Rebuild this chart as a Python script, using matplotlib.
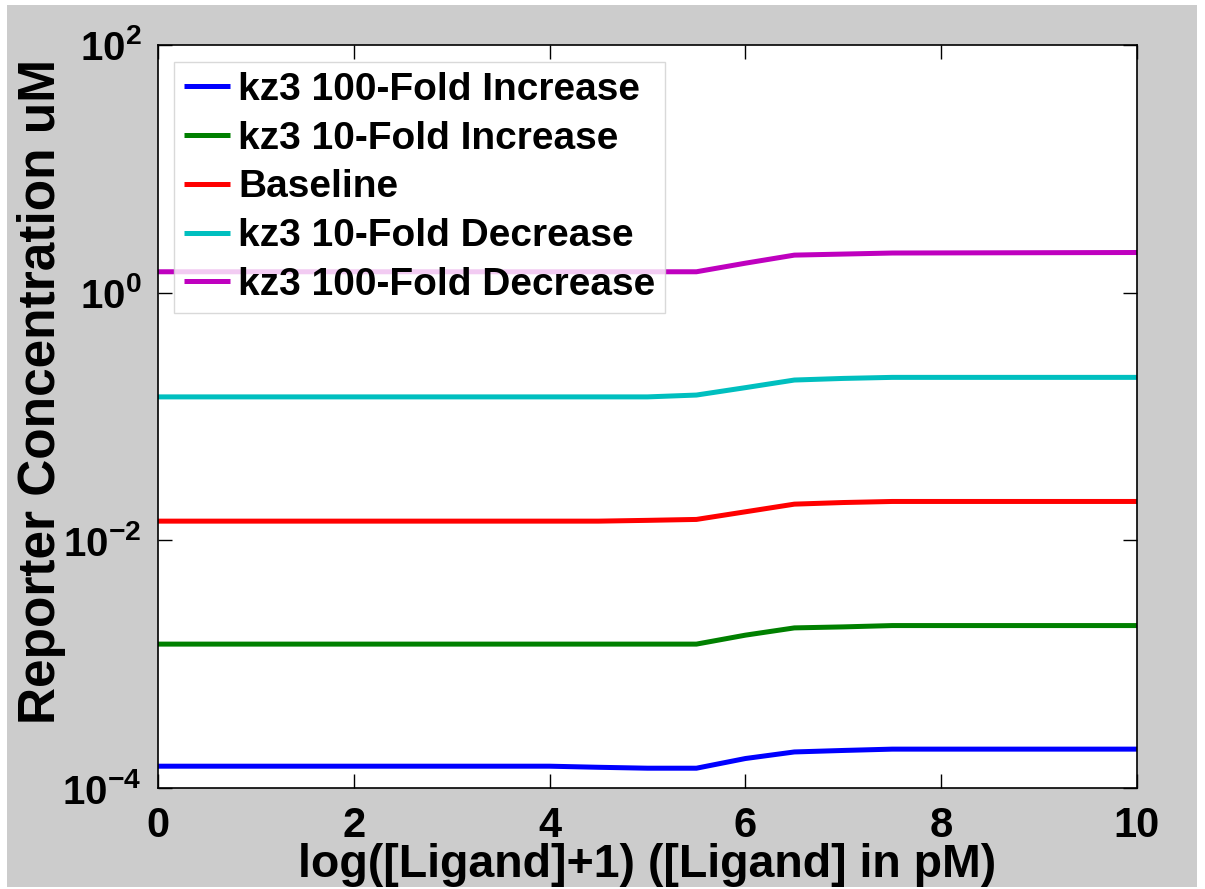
import matplotlib
matplotlib.use("Agg")
import matplotlib.pyplot as plt
from matplotlib.patches import Rectangle
from matplotlib.ticker import FixedLocator, NullLocator

plt.rcParams['font.family'] = ['Liberation Sans', 'DejaVu Sans']
plt.rcParams['font.weight'] = 'bold'
plt.rcParams['mathtext.fontset'] = 'custom'
plt.rcParams['mathtext.rm'] = 'Liberation Sans:bold'
plt.rcParams['mathtext.bf'] = 'Liberation Sans:bold'
plt.rcParams['mathtext.it'] = 'Liberation Sans:bold'

# log([Ligand]+1) sample points
x = [0, 4.0, 4.5, 5.0, 5.5, 6.0, 6.5, 7.0, 7.5, 10]

kz3_100_inc = [1.50e-4, 1.50e-4, 1.47e-4, 1.445e-4, 1.445e-4, 1.73e-4, 1.955e-4, 2.01e-4, 2.06e-4, 2.06e-4]
kz3_10_inc = [1.452e-3, 1.452e-3, 1.452e-3, 1.452e-3, 1.452e-3, 1.715e-3, 1.963e-3, 2.00e-3, 2.05e-3, 2.05e-3]
baseline = [1.429e-2, 1.429e-2, 1.429e-2, 1.45e-2, 1.475e-2, 1.70e-2, 1.96e-2, 2.02e-2, 2.06e-2, 2.06e-2]
kz3_10_dec = [0.144, 0.144, 0.144, 0.144, 0.149, 0.171, 0.197, 0.203, 0.207, 0.207]
kz3_100_dec = [1.475, 1.475, 1.475, 1.475, 1.475, 1.73, 2.01, 2.05, 2.09, 2.11]

series = [kz3_100_inc, kz3_10_inc, baseline, kz3_10_dec, kz3_100_dec]
labels = ['kz3 100-Fold Increase', 'kz3 10-Fold Increase', 'Baseline',
          'kz3 10-Fold Decrease', 'kz3 100-Fold Decrease']
colors = [(0, 0, 1), (0, 0.5, 0), (1, 0, 0), (0, 0.75, 0.75), (0.75, 0, 0.75)]

xticks = [0, 2, 4, 6, 8, 10]
yticks = [1e-4, 1e-2, 1e0, 1e2]
ytick_exps = ['-4', '-2', '0', '2']

W, H = 1205, 889
fig = plt.figure(figsize=(W / 100, H / 100), dpi=100, facecolor='white')
fig.patches.append(Rectangle((7 / W, 2 / H), (1197 - 7) / W, (887 - 5) / H,
                             transform=fig.transFigure, facecolor='#cccccc',
                             edgecolor='none', zorder=-10))

ax = fig.add_axes([158 / W, 1 - 788 / H, (1137 - 158) / W, (788 - 45) / H])
ax.set_facecolor('white')

for ys, lab, c in zip(series, labels, colors):
    ax.plot(x, ys, color=c, lw=3.6, label=lab, solid_capstyle='butt')

ax.set_yscale('log')
ax.set_xlim(0, 10)
ax.set_ylim(1e-4, 1e2)
ax.xaxis.set_major_locator(FixedLocator(xticks))
ax.yaxis.set_major_locator(FixedLocator(yticks))
ax.yaxis.set_minor_locator(NullLocator())
ax.xaxis.set_minor_locator(NullLocator())
ax.set_yticklabels([r'$\mathbf{10^{%s}}$' % e for e in ytick_exps])
ax.set_xticklabels([str(t) for t in xticks])

ax.tick_params(axis='both', which='major', direction='in', length=10, width=1,
               top=True, right=True, colors='black')
ax.tick_params(axis='x', pad=13, labelsize=30)
ax.tick_params(axis='y', pad=12, labelsize=29)
for lbl in ax.get_xticklabels() + ax.get_yticklabels():
    lbl.set_fontweight('bold')
for s in ax.spines.values():
    s.set_linewidth(1.2)
    s.set_color('black')

ax.set_xlabel('log([Ligand]+1) ([Ligand] in pM)', fontsize=33.5, fontweight='bold', labelpad=-2)
ax.set_ylabel('Reporter Concentration uM', fontsize=37, fontweight='bold')
ax.yaxis.set_label_coords(-0.094, (788 - 392) / (788 - 45))

leg = ax.legend(loc='upper left', bbox_to_anchor=((174 - 158) / (1137 - 158), 1 - (62 - 45) / (788 - 45)),
                borderaxespad=0, frameon=True, fancybox=False,
                handlelength=1.2, handletextpad=0.2, labelspacing=0.33,
                borderpad=0.25, prop={'weight': 'bold', 'size': 28})
leg.get_frame().set_edgecolor('#d0d0d0')
leg.get_frame().set_linewidth(1.0)

fig.savefig('out.png', dpi=100, facecolor=fig.get_facecolor())
